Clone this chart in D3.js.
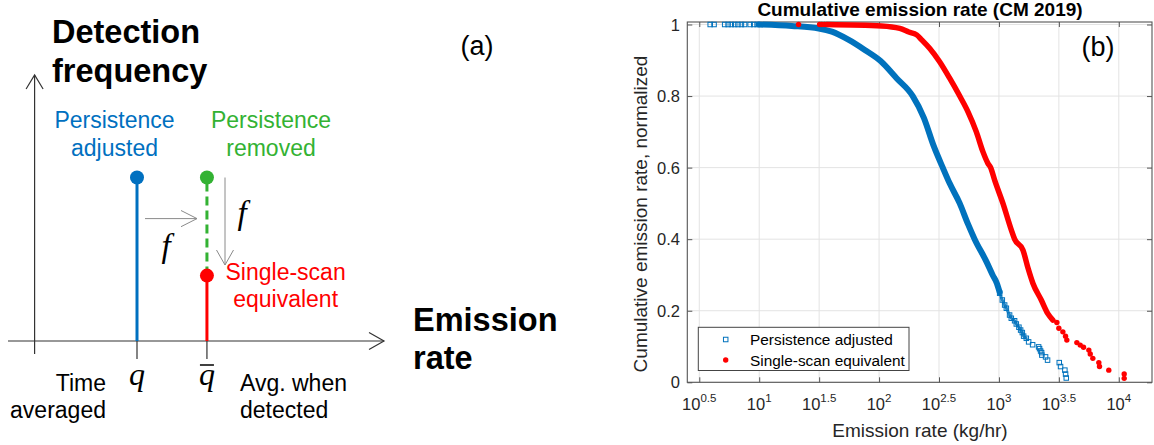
<!DOCTYPE html>
<html><head><meta charset="utf-8">
<script src="https://cdn.jsdelivr.net/npm/d3@7"></script>
<style>
html,body{margin:0;padding:0;background:#fff;}
svg{display:block;font-family:"Liberation Sans",Arial,Helvetica,sans-serif;}
</style></head><body>
<svg id="chart" width="1154" height="445"></svg>
<script>
// ---------- Panel (b) data (emission rate kg/hr, cumulative emission normalized) ----------
const blueTopRate = [3.9, 4.2, 5.15, 5.5, 5.85, 6.25, 6.65, 7.1, 7.55, 8.4, 9.0, 9.6];
const blueTopCum  = [1, 1, 1, 1, 1, 1, 1, 1, 1, 1, 1, 1];
const blueCurveRate = [9.9, 18.7, 31.4, 40.4, 55.9, 76.0, 103, 140, 191, 236, 286, 340, 388, 471, 549, 627, 790, 886, 960, 1014];
const blueCurveCum  = [1.0, 0.996, 0.989, 0.980, 0.957, 0.929, 0.898, 0.85, 0.80, 0.74, 0.66, 0.60, 0.556, 0.50, 0.444, 0.40, 0.336, 0.30, 0.277, 0.252];
const blueMidRate = [1014, 1067, 1116, 1153, 1227, 1268, 1351, 1396, 1468, 1517, 1567, 1607, 1692];
const blueMidCum  = [0.249, 0.230, 0.216, 0.207, 0.188, 0.179, 0.172, 0.163, 0.154, 0.146, 0.139, 0.129, 0.123];
const blueTailRate = [1769, 1910, 2143, 2183, 2226, 2270, 2281, 2449, 2545, 3186, 3266, 3548, 3597, 3645];
const blueTailCum  = [0.113, 0.105, 0.099, 0.094, 0.0875, 0.083, 0.076, 0.071, 0.062, 0.055, 0.044, 0.034, 0.023, 0.012];

const redTopRate = [21.3, 31.9, 33.3, 35.1];
const redTopCum  = [1, 1, 1, 1];
const redCurveRate = [36.6, 105, 149, 177, 206, 227, 265, 320, 388, 471, 552, 648, 736, 809, 853, 921, 1080, 1268, 1351, 1585, 1745, 1919, 2255, 2558, 2818];
const redCurveCum  = [1.0, 0.996, 0.989, 0.979, 0.971, 0.957, 0.933, 0.896, 0.850, 0.80, 0.756, 0.70, 0.644, 0.612, 0.60, 0.565, 0.50, 0.426, 0.40, 0.37, 0.32, 0.277, 0.23, 0.192, 0.174];
const redTailRate = [3042, 3162, 3415, 3594, 3686, 4467, 4767, 5080, 5623, 5777, 6073, 6813, 6902, 8254, 11092, 11092];
const redTailCum  = [0.167, 0.151, 0.141, 0.129, 0.118, 0.111, 0.104, 0.098, 0.090, 0.079, 0.067, 0.055, 0.044, 0.034, 0.023, 0.011];

const xTickExps  = [0.5, 1, 1.5, 2, 2.5, 3, 3.5, 4];
const xTickSup   = ["0.5", "1", "1.5", "2", "2.5", "3", "3.5", "4"];
const yTicks     = [0, 0.2, 0.4, 0.6, 0.8, 1];
const yTickLabels= ["0", "0.2", "0.4", "0.6", "0.8", "1"];
const seriesNames = ["Persistence adjusted", "Single-scan equivalent"];

// ---------- Panel (a) schematic values ----------
const stemPos    = [1.0, 1.683];   // q, q-bar
const stemHeight = [1.0, 0.4];     // persistence adjusted, single-scan equivalent

const svg = d3.select("#chart");
const BLUE = "#0072BD", RED = "#FF0000";

// =============== Panel (b) ===============
const L = 687.3, R = 1152, T = 22, B = 382.3;
const x = d3.scaleLog().domain([Math.pow(10, 0.4), Math.pow(10, 4.277)]).range([L, R]);
const y = d3.scaleLinear().domain([0, 1.007]).range([B, T]);
const gb = svg.append("g");

// grid
gb.append("g").selectAll("line").data(xTickExps).join("line")
  .attr("x1", d => x(Math.pow(10, d))).attr("x2", d => x(Math.pow(10, d)))
  .attr("y1", B).attr("y2", T).attr("stroke", "#e3e3e3").attr("stroke-width", 1);
gb.append("g").selectAll("line").data(yTicks).join("line")
  .attr("x1", L).attr("x2", R).attr("y1", d => y(d)).attr("y2", d => y(d))
  .attr("stroke", "#e3e3e3").attr("stroke-width", 1);

// axes (ticks inside)
const xTickVals = xTickExps.map(e => Math.pow(10, e));
function styleAxis(g) {
  g.select(".domain").remove();
  g.selectAll(".tick line").attr("stroke", "#555");
  g.selectAll(".tick text").remove();
}
gb.append("g").attr("transform", `translate(0,${B})`)
  .call(d3.axisBottom(x).tickValues(xTickVals).tickSizeInner(-5).tickSizeOuter(0)).call(styleAxis);
gb.append("g").attr("transform", `translate(0,${T})`)
  .call(d3.axisTop(x).tickValues(xTickVals).tickSizeInner(-5).tickSizeOuter(0)).call(styleAxis);
gb.append("g").attr("transform", `translate(${L},0)`)
  .call(d3.axisLeft(y).tickValues(yTicks).tickSizeInner(-5).tickSizeOuter(0)).call(styleAxis);
gb.append("g").attr("transform", `translate(${R},0)`)
  .call(d3.axisRight(y).tickValues(yTicks).tickSizeInner(-5).tickSizeOuter(0)).call(styleAxis);

// box
gb.append("rect").attr("x", L).attr("y", T).attr("width", R - L).attr("height", B - T)
  .attr("fill", "none").attr("stroke", "#555").attr("stroke-width", 1.1);

// tick labels
const xt = gb.append("g").selectAll("text").data(xTickExps).join("text")
  .attr("x", d => x(Math.pow(10, d))).attr("y", 410)
  .attr("text-anchor", "middle").attr("font-size", 16.5).attr("fill", "#262626");
xt.append("tspan").text("10");
xt.append("tspan").attr("dy", -8).attr("font-size", 11.5).text((d, i) => xTickSup[i]);

gb.append("g").selectAll("text").data(yTicks).join("text")
  .attr("x", 680).attr("y", d => y(d) + 6)
  .attr("text-anchor", "end").attr("font-size", 16.5).attr("fill", "#262626")
  .text((d, i) => yTickLabels[i]);

// labels
gb.append("text").attr("x", 920).attr("y", 16).attr("text-anchor", "middle")
  .attr("font-size", 19).attr("font-weight", "bold").attr("fill", "#000")
  .text("Cumulative emission rate (CM 2019)");
gb.append("text").attr("transform", "translate(647,214) rotate(-90)").attr("text-anchor", "middle")
  .attr("font-size", 19).attr("fill", "#262626").text("Cumulative emission rate, normalized");
gb.append("text").attr("x", 920).attr("y", 436.5).attr("text-anchor", "middle")
  .attr("font-size", 19).attr("fill", "#262626").text("Emission rate (kg/hr)");
gb.append("text").attr("x", 1098).attr("y", 56).attr("text-anchor", "middle")
  .attr("font-size", 27).attr("fill", "#000").text("(b)");

// series
const zip = (a, b) => a.map((v, i) => [v, b[i]]);
const line = d3.line().x(d => x(d[0])).y(d => y(d[1])).curve(d3.curveMonotoneX);
const plot = gb.append("g");
const sq = 4.5;
function squares(g, data) {
  g.append("g").selectAll("rect").data(data).join("rect")
    .attr("x", d => x(d[0]) - sq / 2).attr("y", d => y(d[1]) - sq / 2)
    .attr("width", sq).attr("height", sq)
    .attr("fill", "none").attr("stroke", BLUE).attr("stroke-width", 1);
}

plot.append("path").datum(zip(blueCurveRate, blueCurveCum)).attr("d", line)
  .attr("fill", "none").attr("stroke", BLUE).attr("stroke-width", 6)
  .attr("stroke-linejoin", "round").attr("stroke-linecap", "round");
plot.append("path").datum(zip(blueMidRate, blueMidCum)).attr("d", line)
  .attr("fill", "none").attr("stroke", BLUE).attr("stroke-width", 3).attr("stroke-opacity", 0.85)
  .attr("stroke-linejoin", "round").attr("stroke-linecap", "round");
squares(plot, zip(blueMidRate, blueMidCum));
squares(plot, zip(blueTopRate, blueTopCum).concat(zip(blueTailRate, blueTailCum)));

plot.append("path").datum(zip(redCurveRate, redCurveCum)).attr("d", line)
  .attr("fill", "none").attr("stroke", RED).attr("stroke-width", 5.5)
  .attr("stroke-linejoin", "round").attr("stroke-linecap", "round");
plot.append("g").selectAll("circle")
  .data(zip(redTopRate, redTopCum).concat(zip(redTailRate, redTailCum))).join("circle")
  .attr("cx", d => x(d[0])).attr("cy", d => y(d[1])).attr("r", 2.7).attr("fill", RED);

// legend
const lg = gb.append("g");
lg.append("rect").attr("x", 698.3).attr("y", 327.3).attr("width", 210.7).attr("height", 43.2)
  .attr("fill", "#fff").attr("stroke", "#444").attr("stroke-width", 1);
lg.append("rect").attr("x", 725.7 - sq / 2).attr("y", 339.5 - sq / 2).attr("width", sq).attr("height", sq)
  .attr("fill", "none").attr("stroke", BLUE).attr("stroke-width", 1);
lg.append("circle").attr("cx", 725.7).attr("cy", 360).attr("r", 2.7).attr("fill", RED);
lg.selectAll("text.lt").data(seriesNames).join("text").attr("class", "lt")
  .attr("x", 750).attr("y", (d, i) => 345 + i * 20.5)
  .attr("font-size", 15.4).attr("fill", "#000").text(d => d);

// =============== Panel (a) ===============
const ga = svg.append("g");
const aX = d3.scaleLinear().domain([0, 1]).range([34.6, 137]);
const aY = d3.scaleLinear().domain([0, 1]).range([341, 177.5]);
const BLUE_A = "#0070C0", GREEN_A = "#33B233", RED_A = "#FF0000", GRAY = "#8a8a8a";

// axes with open arrowheads
ga.append("line").attr("x1", aX(0)).attr("x2", aX(0)).attr("y1", 354).attr("y2", 75)
  .attr("stroke", "#333").attr("stroke-width", 1.2);
ga.append("path").attr("d", `M${aX(0) - 8.5},${89} L${aX(0)},${75} L${aX(0) + 8.5},${89}`)
  .attr("fill", "none").attr("stroke", "#333").attr("stroke-width", 1.2);
ga.append("line").attr("x1", 8).attr("x2", 384).attr("y1", aY(0)).attr("y2", aY(0))
  .attr("stroke", "#333").attr("stroke-width", 1.2);
ga.append("path").attr("d", `M${369},${aY(0) - 8.5} L${384},${aY(0)} L${369},${aY(0) + 8.5}`)
  .attr("fill", "none").attr("stroke", "#333").attr("stroke-width", 1.2);

// tick marks below axis
ga.selectAll("line.tk").data(stemPos).join("line").attr("class", "tk")
  .attr("x1", d => aX(d)).attr("x2", d => aX(d)).attr("y1", aY(0)).attr("y2", 359)
  .attr("stroke", "#333").attr("stroke-width", 1.2);

// stems
ga.append("line").attr("x1", aX(stemPos[0])).attr("x2", aX(stemPos[0]))
  .attr("y1", aY(0)).attr("y2", aY(stemHeight[0])).attr("stroke", BLUE_A).attr("stroke-width", 3);
ga.append("line").attr("x1", aX(stemPos[1])).attr("x2", aX(stemPos[1]))
  .attr("y1", aY(stemHeight[1])).attr("y2", aY(stemHeight[0])).attr("stroke", GREEN_A)
  .attr("stroke-width", 3).attr("stroke-dasharray", "9,5");
ga.append("line").attr("x1", aX(stemPos[1])).attr("x2", aX(stemPos[1]))
  .attr("y1", aY(0)).attr("y2", aY(stemHeight[1])).attr("stroke", RED_A).attr("stroke-width", 3);
ga.append("circle").attr("cx", aX(stemPos[0])).attr("cy", aY(stemHeight[0])).attr("r", 7).attr("fill", BLUE_A);
ga.append("circle").attr("cx", aX(stemPos[1])).attr("cy", aY(stemHeight[0])).attr("r", 7).attr("fill", GREEN_A);
ga.append("circle").attr("cx", aX(stemPos[1])).attr("cy", aY(stemHeight[1])).attr("r", 7).attr("fill", RED_A);

// gray arrows
ga.append("line").attr("x1", 145).attr("x2", 197).attr("y1", 218.6).attr("y2", 218.6).attr("stroke", GRAY).attr("stroke-width", 1);
ga.append("path").attr("d", "M181,210.5 L197,218.6 L181,226.7").attr("fill", "none").attr("stroke", GRAY).attr("stroke-width", 1);
ga.append("line").attr("x1", 225).attr("x2", 225).attr("y1", 177.5).attr("y2", 265).attr("stroke", GRAY).attr("stroke-width", 1);
ga.append("path").attr("d", "M216.5,250 L225,265 L233.5,250").attr("fill", "none").attr("stroke", GRAY).attr("stroke-width", 1);

// math symbols
const serif = "'Liberation Serif','DejaVu Serif',serif";
ga.append("text").attr("x", 166).attr("y", 257).attr("text-anchor", "middle").attr("font-family", serif)
  .attr("font-style", "italic").attr("font-size", 33).text("f");
ga.append("text").attr("x", 242).attr("y", 224).attr("text-anchor", "middle").attr("font-family", serif)
  .attr("font-style", "italic").attr("font-size", 33).text("f");
ga.append("text").attr("x", aX(stemPos[0])).attr("y", 385).attr("text-anchor", "middle").attr("font-family", serif)
  .attr("font-style", "italic").attr("font-size", 32).text("q");
ga.append("text").attr("x", aX(stemPos[1])).attr("y", 385).attr("text-anchor", "middle").attr("font-family", serif)
  .attr("font-style", "italic").attr("font-size", 32).text("q");
ga.append("line").attr("x1", aX(stemPos[1]) - 7).attr("x2", aX(stemPos[1]) + 7).attr("y1", 365).attr("y2", 365)
  .attr("stroke", "#000").attr("stroke-width", 1.5);

// labels
function lines(g, arr, xx, y0, dy, anchor, size, color, weight) {
  g.append("g").selectAll("text").data(arr).join("text")
    .attr("x", xx).attr("y", (d, i) => y0 + i * dy).attr("text-anchor", anchor)
    .attr("font-size", size).attr("fill", color).attr("font-weight", weight || "normal").text(d => d);
}
lines(ga, ["Detection", "frequency"], 52, 42.5, 39, "start", 32.5, "#000", "bold");
lines(ga, ["Emission", "rate"], 413, 330.6, 38.5, "start", 32.5, "#000", "bold");
lines(ga, ["Persistence", "adjusted"], 114.5, 128, 27.5, "middle", 23, BLUE_A);
lines(ga, ["Persistence", "removed"], 271, 128, 27.5, "middle", 23, GREEN_A);
lines(ga, ["Single-scan", "equivalent"], 285.6, 280, 27, "middle", 23, RED_A);
lines(ga, ["Time", "averaged"], 106, 391, 26.5, "end", 23, "#000");
lines(ga, ["Avg. when", "detected"], 240, 391, 26.5, "start", 23, "#000");
ga.append("text").attr("x", 477).attr("y", 55).attr("text-anchor", "middle").attr("font-size", 27).text("(a)");
</script>
</body></html>
